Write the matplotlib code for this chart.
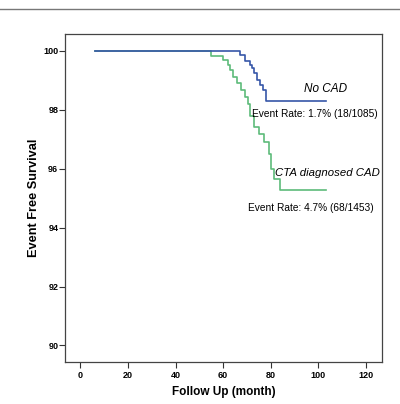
import matplotlib
matplotlib.use("Agg")
import matplotlib.pyplot as plt
from matplotlib.lines import Line2D

plt.rcParams['font.family'] = ['Liberation Sans', 'DejaVu Sans']

# Kaplan-Meier step data (months, % event-free survival)
no_cad_time = [6, 67.2, 69.0, 71.1, 72.1, 72.8, 74.2, 75.6, 76.9, 77.9, 103]
no_cad_surv = [100, 99.85, 99.66, 99.51, 99.40, 99.23, 99.02, 98.83, 98.66, 98.29, 98.29]

cad_time = [6, 55.0, 59.9, 62.2, 63.0, 64.3, 66.0, 67.4, 69.3, 70.6, 71.4, 73.0, 74.9, 77.0, 79.1, 80.1, 81.2, 84.0, 103]
cad_surv = [100, 99.82, 99.68, 99.51, 99.34, 99.11, 98.89, 98.66, 98.43, 98.20, 97.80, 97.40, 97.18, 96.89, 96.49, 95.98, 95.64, 95.27, 95.27]

x_ticks = [0, 20, 40, 60, 80, 100, 120]
y_ticks = [90, 92, 94, 96, 98, 100]

fig = plt.figure(figsize=(4.0, 4.04), dpi=100)
ax = fig.add_axes([0.1625, 0.104, 0.7925, 0.812])

ax.step(cad_time, cad_surv, where='post', color='#5dbb7a', lw=1.2)
ax.step(no_cad_time, no_cad_surv, where='post', color='#3656a8', lw=1.2)

ax.set_xlim(-6.4, 126.7)
ax.set_ylim(89.44, 100.57)
ax.set_xticks(x_ticks)
ax.set_yticks(y_ticks)
ax.tick_params(axis='both', labelsize=6.5, length=4, width=0.8, color='#333333')
ax.tick_params(axis='x', pad=2.5)
ax.tick_params(axis='y', pad=0.8)
for lab in ax.get_xticklabels() + ax.get_yticklabels():
    lab.set_fontweight('bold')
for sp in ax.spines.values():
    sp.set_color('#444444')
    sp.set_linewidth(0.9)

ax.set_xlabel('Follow Up (month)', fontsize=8.5, fontweight='bold', labelpad=4.5)
ax.set_ylabel('Event Free Survival', fontsize=9.2, fontweight='bold')
ax.yaxis.set_label_coords(-0.078, 0.5)

ax.text(102.9, 98.69, 'No CAD', fontsize=8.5, style='italic', ha='center', va='center')
ax.text(72.1, 97.86, 'Event Rate: 1.7% (18/1085)', fontsize=7.3, ha='left', va='center')
ax.text(81.9, 95.86, 'CTA diagnosed CAD', fontsize=8.2, style='italic', ha='left', va='center')
ax.text(70.6, 94.67, 'Event Rate: 4.7% (68/1453)', fontsize=7.3, ha='left', va='center')

fig.add_artist(Line2D([0, 1], [1 - 9 / 404, 1 - 9 / 404], transform=fig.transFigure,
                      color='#777777', lw=1))

fig.savefig('out.png', dpi=100)
